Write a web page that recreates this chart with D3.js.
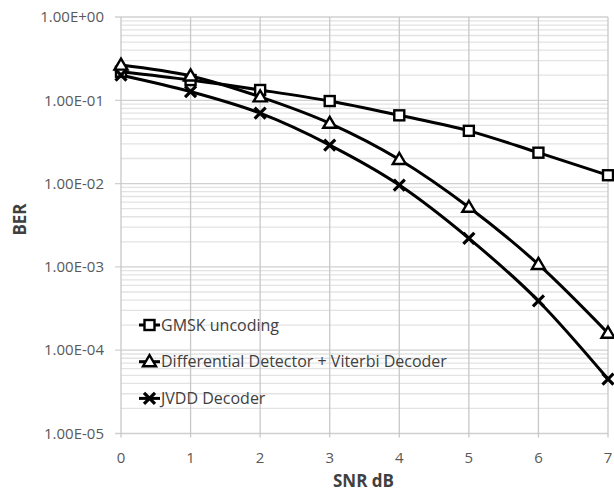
<!DOCTYPE html>
<html>
<head>
<meta charset="utf-8">
<script src="https://cdn.jsdelivr.net/npm/d3@7"></script>
<style>
  body { margin: 0; background: #fff; }
  text { font-family: "Open Sans", "Noto Sans", sans-serif; }
</style>
</head>
<body>
<svg id="chart" width="614" height="493"></svg>
<script>
const snr = [0, 1, 2, 3, 4, 5, 6, 7];
const gmsk = [0.22, 0.175, 0.133, 0.098, 0.066, 0.043, 0.0235, 0.0126];
const ddViterbi = [0.265, 0.196, 0.11, 0.053, 0.0195, 0.0052, 0.00107, 0.00016];
const jvdd = [0.2, 0.127, 0.07, 0.029, 0.0096, 0.0022, 0.00039, 0.000045];
const seriesNames = ["GMSK uncoding", "Differential Detector + Viterbi Decoder", "JVDD Decoder"];
const markerTypes = ["square", "triangle", "cross"];
const yTicks = [1, 1e-1, 1e-2, 1e-3, 1e-4, 1e-5];

const series = [gmsk, ddViterbi, jvdd].map((vals, i) => ({
  name: seriesNames[i], marker: markerTypes[i],
  points: vals.map((v, j) => [snr[j], v])
}));

const svg = d3.select("#chart");
const plotL = 121, plotR = 608, plotT = 17, plotB = 433.5;

const x = d3.scaleLinear().domain([0, 7]).range([plotL, plotR]);
const y = d3.scaleLog().domain([1e-5, 1]).range([plotB, plotT]);

// minor horizontal grid
const minor = [];
for (let e = -5; e < 0; e++) {
  for (let m = 2; m <= 9; m++) minor.push(m * Math.pow(10, e));
}
svg.append("g").selectAll("line").data(minor).join("line")
  .attr("x1", plotL).attr("x2", plotR)
  .attr("y1", d => y(d)).attr("y2", d => y(d))
  .attr("stroke", "#e3e3e3").attr("stroke-width", 1.3);

// major horizontal grid
svg.append("g").selectAll("line").data(yTicks).join("line")
  .attr("x1", plotL - 6).attr("x2", plotR)
  .attr("y1", d => y(d)).attr("y2", d => y(d))
  .attr("stroke", "#d0d0d0").attr("stroke-width", 1.3);

// vertical grid
svg.append("g").selectAll("line").data(snr).join("line")
  .attr("x1", d => x(d)).attr("x2", d => x(d))
  .attr("y1", plotT).attr("y2", plotB + 4)
  .attr("stroke", "#c8c8c8").attr("stroke-width", 1.3);

// y tick labels
svg.append("g").selectAll("text").data(yTicks).join("text")
  .attr("x", plotL - 17).attr("y", d => y(d))
  .attr("dy", "0.35em").attr("text-anchor", "end")
  .attr("font-size", 15).attr("fill", "#595959")
  .text(d => d.toExponential(2).replace(/e([+-])(\d)$/, "E$10$2").toUpperCase());

// x tick labels
svg.append("g").selectAll("text").data(snr).join("text")
  .attr("x", d => x(d)).attr("y", plotB + 29)
  .attr("text-anchor", "middle")
  .attr("font-size", 15).attr("fill", "#595959")
  .text(d => d);

// axis titles
svg.append("text")
  .attr("x", (plotL + plotR) / 2 - 1).attr("y", 487)
  .attr("text-anchor", "middle").attr("font-size", 17).attr("font-weight", "bold")
  .attr("fill", "#404040").text("SNR dB");
svg.append("text")
  .attr("transform", "translate(26,219.5) rotate(-90)")
  .attr("text-anchor", "middle").attr("font-size", 17).attr("font-weight", "bold")
  .attr("fill", "#404040").text("BER");

function drawMarker(g, type, cx, cy) {
  if (type === "square") {
    g.append("rect").attr("x", cx - 5).attr("y", cy - 5)
      .attr("width", 10).attr("height", 10)
      .attr("fill", "#fff").attr("stroke", "#000").attr("stroke-width", 2.4);
  } else if (type === "triangle") {
    const s = 6.5;
    g.append("path")
      .attr("d", `M${cx},${cy - s}L${cx + s},${cy + s * 0.7}L${cx - s},${cy + s * 0.7}Z`)
      .attr("fill", "#fff").attr("stroke", "#000").attr("stroke-width", 2.4);
  } else {
    const s = 5.5;
    g.append("path")
      .attr("d", `M${cx - s},${cy - s}L${cx + s},${cy + s}M${cx + s},${cy - s}L${cx - s},${cy + s}`)
      .attr("stroke", "#000").attr("stroke-width", 3.2);
  }
}

const line = d3.line().x(d => x(d[0])).y(d => y(d[1])).curve(d3.curveMonotoneX);

series.forEach(s => {
  svg.append("path").datum(s.points)
    .attr("d", line).attr("fill", "none")
    .attr("stroke", "#000").attr("stroke-width", 3);
});
series.forEach(s => {
  const g = svg.append("g");
  s.points.forEach(p => drawMarker(g, s.marker, x(p[0]), y(p[1])));
});

// legend
const legend = svg.append("g");
series.forEach((s, i) => {
  const ly = 325 + i * 36.7;
  legend.append("line").attr("x1", 139).attr("x2", 160)
    .attr("y1", ly).attr("y2", ly).attr("stroke", "#000").attr("stroke-width", 3);
  drawMarker(legend, s.marker, 149.5, ly);
  legend.append("text").attr("x", 161).attr("y", ly).attr("dy", "0.35em")
    .attr("font-size", 16).attr("fill", "#404040").text(s.name);
});
</script>
</body>
</html>
